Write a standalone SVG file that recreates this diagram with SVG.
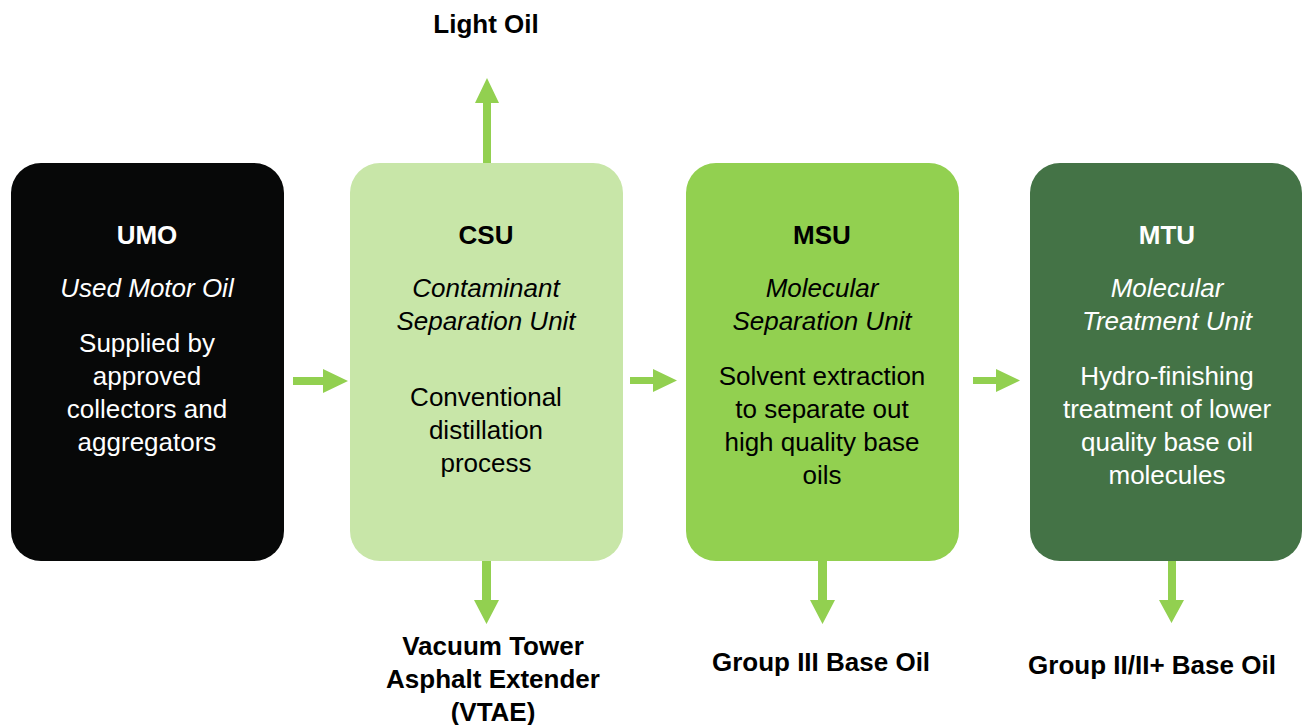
<svg xmlns="http://www.w3.org/2000/svg" width="1302" height="725" viewBox="0 0 1302 725">
  <style>
    text { font-family: "Liberation Sans", Arial, sans-serif; font-size: 26px; text-anchor: middle; }
    .b { font-weight: bold; }
    .i { font-style: italic; }
    .light { fill: #ffffff; }
    .dark { fill: #000000; }
    .arrow { fill: #92d050; }
  </style>
  <rect width="1302" height="725" fill="#ffffff"/>

  <!-- Process units -->
  <g id="umo">
    <rect x="11" y="163" width="273" height="398" rx="30" fill="#070808"/>
    <text class="b light" x="147" y="244">UMO</text>
    <text class="i light" x="147" y="297">Used Motor Oil</text>
    <text class="light" x="147" y="352">Supplied by</text>
    <text class="light" x="147" y="385">approved</text>
    <text class="light" x="147" y="418">collectors and</text>
    <text class="light" x="147" y="451">aggregators</text>
  </g>

  <g id="csu">
    <rect x="350" y="163" width="273" height="398" rx="30" fill="#c8e6a8"/>
    <text class="b dark" x="486" y="244">CSU</text>
    <text class="i dark" x="486" y="297">Contaminant</text>
    <text class="i dark" x="486" y="330">Separation Unit</text>
    <text class="dark" x="486" y="406">Conventional</text>
    <text class="dark" x="486" y="439">distillation</text>
    <text class="dark" x="486" y="472">process</text>
  </g>

  <g id="msu">
    <rect x="686" y="163" width="273" height="398" rx="30" fill="#92d050"/>
    <text class="b dark" x="822" y="244">MSU</text>
    <text class="i dark" x="822" y="297">Molecular</text>
    <text class="i dark" x="822" y="330">Separation Unit</text>
    <text class="dark" x="822" y="385">Solvent extraction</text>
    <text class="dark" x="822" y="418">to separate out</text>
    <text class="dark" x="822" y="451">high quality base</text>
    <text class="dark" x="822" y="484">oils</text>
  </g>

  <g id="mtu">
    <rect x="1030" y="163" width="272" height="398" rx="30" fill="#447346"/>
    <text class="b light" x="1167" y="244">MTU</text>
    <text class="i light" x="1167" y="297">Molecular</text>
    <text class="i light" x="1167" y="330">Treatment Unit</text>
    <text class="light" x="1167" y="385">Hydro-finishing</text>
    <text class="light" x="1167" y="418">treatment of lower</text>
    <text class="light" x="1167" y="451">quality base oil</text>
    <text class="light" x="1167" y="484">molecules</text>
  </g>

  <!-- Product outputs -->
  <g id="light-oil">
    <text class="b dark" x="486" y="33">Light Oil</text>
  </g>
  <g id="vtae">
    <text class="b dark" x="493" y="655">Vacuum Tower</text>
    <text class="b dark" x="493" y="688">Asphalt Extender</text>
    <text class="b dark" x="493" y="721">(VTAE)</text>
  </g>
  <g id="group-iii">
    <text class="b dark" x="821" y="671">Group III Base Oil</text>
  </g>
  <g id="group-ii">
    <text class="b dark" x="1152" y="674">Group II/II+ Base Oil</text>
  </g>

  <!-- Flow arrows -->
  <g id="connectors" class="arrow">
    <polygon points="293,377 323,377 323,369 348,381 323,393 323,385 293,385"/>
    <polygon points="630,377 653,377 653,369 677,380.5 653,392 653,384 630,384"/>
    <polygon points="973,377 996,377 996,369 1020,380.5 996,392 996,384 973,384"/>
    <polygon points="483,163 483,103 475,103 487,78 499,103 491,103 491,163"/>
    <polygon points="482,561 482,600 474,600 486.5,624 499,600 491,600 491,561"/>
    <polygon points="818,561 818,600 810,600 822.5,624 835,600 827,600 827,561"/>
    <polygon points="1168,561 1168,600 1159,600 1171.5,623 1184,600 1176,600 1176,561"/>
  </g>
</svg>
